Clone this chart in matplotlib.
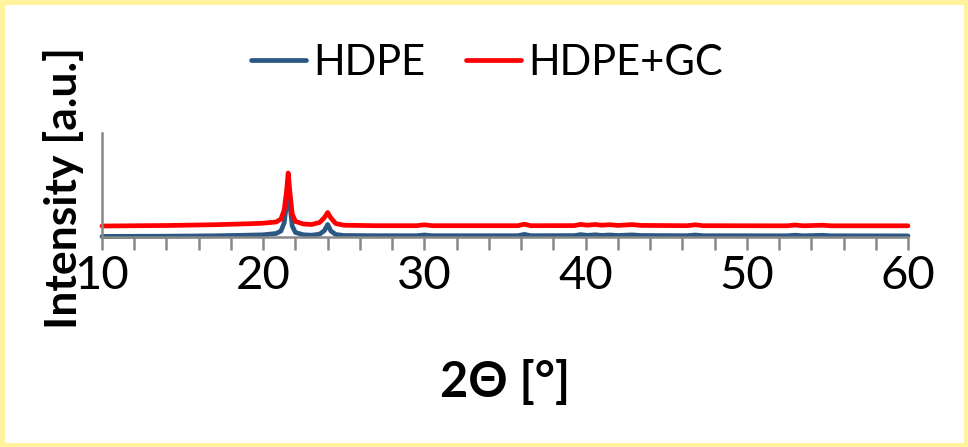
import matplotlib
matplotlib.use("Agg")
import matplotlib.pyplot as plt
from matplotlib.patches import Rectangle

# ---- data (intensity in arbitrary units) ----
two_theta = [10, 14, 17, 19, 20, 20.8, 21.1, 21.3, 21.45, 21.55, 21.65, 21.8, 22.0,
             22.5, 23.0, 23.5, 23.8, 24.0, 24.2, 24.5, 25, 27, 29.5, 30.0, 30.5,
             35.8, 36.2, 36.6, 39.3, 39.7, 40.1, 40.6, 41.0, 41.5, 42.0, 42.9, 43.4,
             46.3, 46.8, 47.3, 52.5, 53.0, 53.5, 54.7, 55.2, 60]
hdpe = [0.6, 0.8, 1.2, 1.8, 2.2, 3.5, 6, 14, 33, 52, 33, 11, 4.5,
        2.2, 1.8, 2.8, 6.5, 12.5, 6, 2.5, 1.5, 1.3, 1.3, 2.0, 1.3,
        1.3, 2.6, 1.3, 1.4, 2.4, 1.6, 2.2, 1.6, 2.0, 1.5, 2.1, 1.5,
        1.3, 2.0, 1.3, 1.2, 1.8, 1.2, 1.7, 1.2, 1.1]
hdpe_gc = [11.0, 11.5, 12.3, 13.2, 13.8, 15.0, 18, 27, 46, 64, 46, 23, 15.5,
           13.0, 12.5, 14.5, 19.5, 24.5, 19, 13.5, 11.8, 11.3, 11.3, 12.2, 11.3,
           11.3, 12.8, 11.3, 11.4, 12.6, 11.8, 12.5, 11.8, 12.3, 11.6, 12.4, 11.6,
           11.3, 12.2, 11.3, 11.2, 12.0, 11.2, 11.8, 11.2, 11.2]
series_names = ["HDPE", "HDPE+GC"]
series_colors = ["#2A5783", "#FF0000"]
xticks = [10, 20, 30, 40, 50, 60]
minor_ticks = list(range(10, 61, 2))

FONT = "Lato"
W, H = 968, 447
fig = plt.figure(figsize=(W / 100, H / 100), dpi=100)
fig.patch.set_facecolor("white")

# yellow frame
fig.add_artist(Rectangle((2 / W, 2 / H), 1 - 4 / W, 1 - 4 / H, transform=fig.transFigure,
                         fill=False, edgecolor="#FFF39C", linewidth=3.5))

ax = fig.add_axes([102 / W, (H - 237) / H, (908 - 102) / W, (237 - 133) / H])
lines = []
for ys, name, col in zip([hdpe, hdpe_gc], series_names, series_colors):
    ln, = ax.plot(two_theta, ys, color=col, linewidth=3.4, label=name,
                  solid_joinstyle="round", solid_capstyle="round", clip_on=False)
    lines.append(ln)

ax.set_xlim(10, 60)
ax.set_ylim(0, 104)
for s in ["top", "right"]:
    ax.spines[s].set_visible(False)
for s in ["left", "bottom"]:
    ax.spines[s].set_color("#888888")
    ax.spines[s].set_linewidth(1.8)
ax.set_yticks([])
ax.set_xticks(xticks)
ax.set_xticks(minor_ticks, minor=True)
ax.tick_params(axis="x", which="both", direction="out", length=9, width=1.8,
               color="#888888")
ax.tick_params(axis="x", which="major", labelsize=34, pad=4)
for lab in ax.get_xticklabels():
    lab.set_fontfamily(FONT)

fig.text(505 / W, 1 - 382 / H, "2Θ [°]", ha="center", va="center",
         fontsize=35, fontweight="bold", family=FONT)
fig.text(64 / W, 1 - 188 / H, "Intensity [a.u.]", ha="center", va="center",
         rotation=90, fontsize=32, fontweight="bold", family=FONT)

leg = fig.legend(handles=lines, loc="center", bbox_to_anchor=(487 / W, 1 - 63 / H),
                 ncol=2, frameon=False, prop={"family": FONT, "size": 30},
                 handlelength=1.32, handletextpad=0.17, columnspacing=0.96,
                 borderpad=0, borderaxespad=0)
for l in leg.get_lines():
    l.set_linewidth(3.4)

fig.savefig("out.png", dpi=100)
